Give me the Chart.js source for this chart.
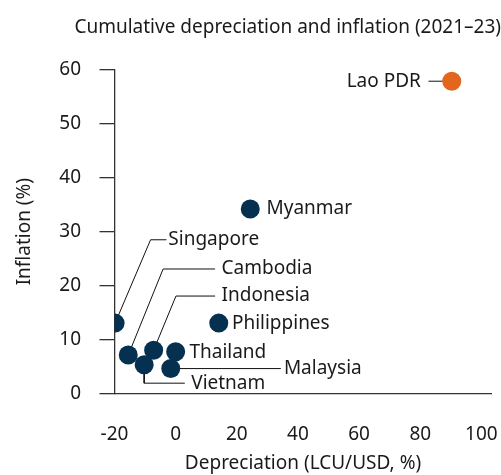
<!DOCTYPE html>
<html>
<head>
<meta charset="utf-8">
<script src="https://cdn.jsdelivr.net/npm/chart.js@4"></script>
<style>
html,body{margin:0;padding:0;background:#fff;}
#wrap{width:501px;height:475px;position:relative;}
</style>
</head>
<body>
<div id="wrap"><canvas id="c"></canvas></div>
<script>
// ---- data ----
const countries    = ['Lao PDR','Myanmar','Singapore','Cambodia','Indonesia','Thailand','Vietnam','Malaysia','Philippines'];
const depreciation = [90.3, 24.4, -19.8, -15.5, -7.2, 0.0, -10.3, -1.6, 14.1];
const inflation    = [57.8, 34.2, 13.1, 7.2, 8.1, 7.8, 5.4, 4.7, 13.1];
const highlighted  = ['Lao PDR'];
const xTicks = [-20, 0, 20, 40, 60, 80, 100];
const yTicks = [0, 10, 20, 30, 40, 50, 60];

// ---- label annotation layout (value coordinates) ----
const labelLayout = {
  'Lao PDR':     {x: 80.2, y: 57.8, align: 'right', leader: [[82.7, 57.8]]},
  'Myanmar':     {x: 29.7, y: 34.2},
  'Singapore':   {x: -2.4, y: 28.5, leader: [[-8.2, 28.5], [-3.0, 28.5]]},
  'Cambodia':    {x: 15.0, y: 23.1, leader: [[-4.1, 23.1], [12.9, 23.1]]},
  'Indonesia':   {x: 15.0, y: 18.1, leader: [[0.1, 18.1], [12.9, 18.1]]},
  'Thailand':    {x: 4.5,  y: 7.7},
  'Vietnam':     {x: 5.1,  y: 2.0,  leader: [[-10.3, 2.0], [3.0, 2.0]]},
  'Malaysia':    {x: 35.4, y: 4.7,  leader: [[34.4, 4.7]]},
  'Philippines': {x: 18.4, y: 13.1}
};

const FONT = '"Noto Sans", "DejaVu Sans", sans-serif';
const TEXT = '#1a1a1a';
const NAVY = '#06304f';
const ORANGE = '#e3661f';
const AXIS = '#333333';

Chart.defaults.font.family = FONT;
Chart.defaults.font.size = 19;
Chart.defaults.color = TEXT;

const points = countries.map((c, i) => ({x: depreciation[i], y: inflation[i]}));

const leaderSets = countries.filter(c => labelLayout[c].leader).map(c => {
  const i = countries.indexOf(c);
  return {
    data: [points[i]].concat(labelLayout[c].leader.map(v => ({x: v[0], y: v[1]}))),
    showLine: true,
    borderColor: '#111',
    borderWidth: 1,
    pointRadius: 0,
    pointHoverRadius: 0,
    fill: false,
    tension: 0,
    order: 2
  };
});

const labelPlugin = {
  id: 'pointLabels',
  afterDatasetsDraw(chart) {
    const {ctx, scales: {x, y}} = chart;
    ctx.save();
    ctx.font = '19px ' + FONT;
    ctx.fillStyle = TEXT;
    ctx.textBaseline = 'middle';
    countries.forEach(c => {
      const L = labelLayout[c];
      ctx.textAlign = L.align || 'left';
      ctx.fillText(c, x.getPixelForValue(L.x), y.getPixelForValue(L.y));
    });
    ctx.restore();
  }
};

new Chart(document.getElementById('c'), {
  type: 'scatter',
  data: {
    datasets: [{
      data: points,
      backgroundColor: countries.map(c => highlighted.includes(c) ? ORANGE : NAVY),
      borderWidth: 0,
      pointRadius: 9.5,
      pointHoverRadius: 9.5,
      order: 0
    }].concat(leaderSets)
  },
  options: {
    responsive: true,
    maintainAspectRatio: false,
    animation: false,
    events: [],
    layout: {padding: 0},
    plugins: {
      legend: {display: false},
      tooltip: {enabled: false},
      title: {
        display: true,
        text: 'Cumulative depreciation and inflation (2021–23)',
        align: 'end',
        color: TEXT,
        font: {size: 19, weight: 'normal'},
        padding: {top: 16.5, bottom: 30}
      }
    },
    scales: {
      x: {
        type: 'linear',
        min: -20,
        max: 103.3,
        afterBuildTicks: s => { s.ticks = xTicks.map(v => ({value: v})); },
        grid: {display: false},
        border: {display: true, color: AXIS, width: 1.3},
        ticks: {padding: 21, color: TEXT, font: {size: 19}, maxRotation: 0},
        title: {display: true, text: 'Depreciation (LCU/USD, %)', color: TEXT, font: {size: 19}, padding: {top: 0, bottom: 0}},
        afterFit: s => { s.height = 81; s.paddingLeft = 0; s.paddingRight = 7.7; }
      },
      y: {
        type: 'linear',
        min: 0,
        max: 60,
        afterBuildTicks: s => { s.ticks = yTicks.map(v => ({value: v})); },
        grid: {display: true, drawOnChartArea: false, drawTicks: true, tickLength: 15, color: AXIS, lineWidth: 1.3},
        border: {display: true, color: AXIS, width: 1.3},
        ticks: {padding: 18.5, color: TEXT, font: {size: 19}},
        title: {display: true, text: 'Inflation (%)', color: TEXT, font: {size: 19}, padding: {top: 13, bottom: 0}},
        afterFit: s => { s.width = 114.5; s.paddingTop = 0; s.paddingBottom = 0; }
      }
    }
  },
  plugins: [labelPlugin]
});
</script>
</body>
</html>
